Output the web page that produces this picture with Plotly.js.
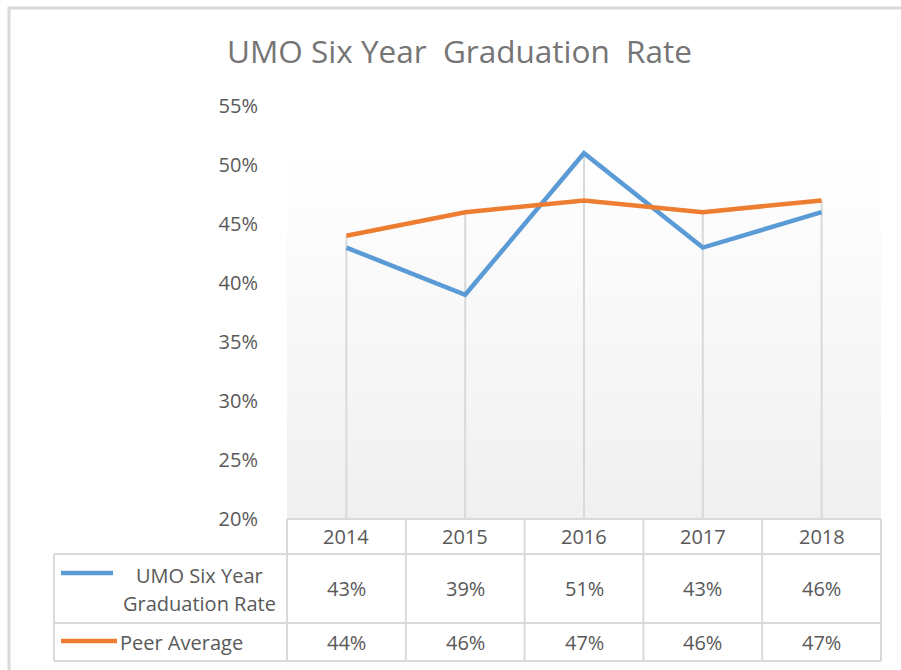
<!DOCTYPE html>
<html><head><meta charset="utf-8">
<script src="https://cdn.plot.ly/plotly-3.0.1.min.js"></script>
<style>html,body{margin:0;padding:0;background:#fff;}</style>
</head><body>
<div id="chart" style="width:901px;height:670px;"></div>
<script>
// ---- data ----
const years = ["2014", "2015", "2016", "2017", "2018"];
const umoRate = [0.43, 0.39, 0.51, 0.43, 0.46];
const peerAvg = [0.44, 0.46, 0.47, 0.46, 0.47];
const seriesNameLines = [["UMO Six Year", "Graduation Rate"], ["Peer Average"]];
const yTicks = [0.20, 0.25, 0.30, 0.35, 0.40, 0.45, 0.50, 0.55];
const titleText = "UMO Six Year\u00a0 Graduation\u00a0 Rate";

// ---- geometry helpers (pixel -> paper) ----
const L = 287, R = 881, T = 106, B = 519;
const W = R - L, H = B - T;
const px = x => (x - L) / W;
const py = y => (B - y) / H;

const textColor = '#595959';
const gridColor = '#d9d9d9';
const blue = '#5b9bd5', orange = '#ed7d31';
const font = 'Open Sans, Noto Sans, sans-serif';

// drop lines (from the axis up to the higher of the two series)
const dropX = [], dropY = [];
years.forEach((yr, i) => {
  dropX.push(yr, yr, null);
  dropY.push(yTicks[0], Math.max(umoRate[i], peerAvg[i]), null);
});

const traces = [
  {x: dropX, y: dropY, type: 'scatter', mode: 'lines', line: {color: gridColor, width: 2},
   connectgaps: false, hoverinfo: 'skip', showlegend: false},
  {x: years, y: umoRate, type: 'scatter', mode: 'lines', name: 'UMO Six Year Graduation Rate',
   line: {color: blue, width: 4.5}, hoverinfo: 'skip'},
  {x: years, y: peerAvg, type: 'scatter', mode: 'lines', name: 'Peer Average',
   line: {color: orange, width: 4.5}, hoverinfo: 'skip'}
];

const shapes = [];
const annotations = [];

// outer frame
shapes.push({type: 'rect', xref: 'paper', yref: 'paper', x0: px(9), x1: px(960), y0: py(8), y1: py(720),
  line: {color: '#d9d9d9', width: 3}, layer: 'below'});

// data table
const rowHeader = [519, 554], row1 = [554, 623], row2 = [623, 661];
const tLine = {color: gridColor, width: 2};
shapes.push({type: 'line', xref: 'paper', yref: 'paper', x0: px(L), x1: px(R), y0: py(519), y1: py(519), line: tLine});
[554, 623, 661].forEach(y => shapes.push({type: 'line', xref: 'paper', yref: 'paper', x0: px(54), x1: px(R), y0: py(y), y1: py(y), line: tLine}));
shapes.push({type: 'line', xref: 'paper', yref: 'paper', x0: px(54), x1: px(54), y0: py(554), y1: py(661), line: tLine});
for (let i = 0; i <= years.length; i++) {
  const x = L + i * W / years.length;
  shapes.push({type: 'line', xref: 'paper', yref: 'paper', x0: px(x), x1: px(x), y0: py(519), y1: py(661), line: tLine});
}
const cellFont = {family: font, size: 20, color: textColor};
years.forEach((yr, i) => {
  const xc = (i + 0.5) / years.length;
  annotations.push({xref: 'paper', yref: 'paper', x: xc, y: py((rowHeader[0] + rowHeader[1]) / 2), text: yr,
    showarrow: false, font: cellFont, xanchor: 'center', yanchor: 'middle'});
  annotations.push({xref: 'paper', yref: 'paper', x: xc, y: py((row1[0] + row1[1]) / 2), text: Math.round(umoRate[i] * 100) + '%',
    showarrow: false, font: cellFont, xanchor: 'center', yanchor: 'middle'});
  annotations.push({xref: 'paper', yref: 'paper', x: xc, y: py((row2[0] + row2[1]) / 2), text: Math.round(peerAvg[i] * 100) + '%',
    showarrow: false, font: cellFont, xanchor: 'center', yanchor: 'middle'});
});
// legend keys
shapes.push({type: 'line', xref: 'paper', yref: 'paper', x0: px(61), x1: px(113), y0: py(573), y1: py(573), line: {color: blue, width: 4.5}});
shapes.push({type: 'line', xref: 'paper', yref: 'paper', x0: px(61), x1: px(117), y0: py(641), y1: py(641), line: {color: orange, width: 4.5}});
annotations.push({xref: 'paper', yref: 'paper', x: px(199), y: py(575), text: seriesNameLines[0][0], showarrow: false,
  font: cellFont, xanchor: 'center', yanchor: 'middle'});
annotations.push({xref: 'paper', yref: 'paper', x: px(199), y: py(603), text: seriesNameLines[0][1], showarrow: false,
  font: cellFont, xanchor: 'center', yanchor: 'middle'});
annotations.push({xref: 'paper', yref: 'paper', x: px(118), y: py(642), text: seriesNameLines[1][0], showarrow: false,
  font: cellFont, xanchor: 'left', yanchor: 'middle'});

// title
annotations.push({xref: 'paper', yref: 'paper', x: px(459), y: py(51), text: titleText, showarrow: false,
  font: {family: font, size: 31.5, color: '#757575'}, xanchor: 'center', yanchor: 'middle'});

// gradient background
const svg = "<svg xmlns='http://www.w3.org/2000/svg' width='100' height='100' preserveAspectRatio='none'>" +
  "<defs><linearGradient id='g' x1='0' y1='0' x2='0' y2='1'><stop offset='0' stop-color='#ffffff'/>" +
  "<stop offset='1' stop-color='#f0f0f0'/></linearGradient></defs><rect width='100' height='100' fill='url(#g)'/></svg>";
const images = [{source: 'data:image/svg+xml;charset=utf-8,' + encodeURIComponent(svg), xref: 'paper', yref: 'paper',
  x: 0, y: py(150), sizex: 1, sizey: py(150), xanchor: 'left', yanchor: 'top', sizing: 'stretch', layer: 'below'}];

const layout = {
  width: 901, height: 670,
  margin: {l: L, r: 901 - R, t: T, b: 670 - B, pad: 0},
  paper_bgcolor: '#ffffff', plot_bgcolor: 'rgba(0,0,0,0)',
  showlegend: false,
  xaxis: {type: 'category', range: [-0.5, 4.5], showticklabels: false, showgrid: false, zeroline: false,
    showline: false, ticks: '', fixedrange: true},
  yaxis: {range: [0.20, 0.55], tickvals: yTicks, ticktext: yTicks.map(v => Math.round(v * 100) + '%'),
    showgrid: false, zeroline: false, showline: false, ticks: 'outside', ticklen: 24, tickcolor: 'rgba(0,0,0,0)',
    tickfont: {family: font, size: 20, color: textColor}, fixedrange: true},
  shapes: shapes, annotations: annotations, images: images
};

Plotly.newPlot('chart', traces, layout, {displayModeBar: false, staticPlot: true});
</script>
</body></html>
